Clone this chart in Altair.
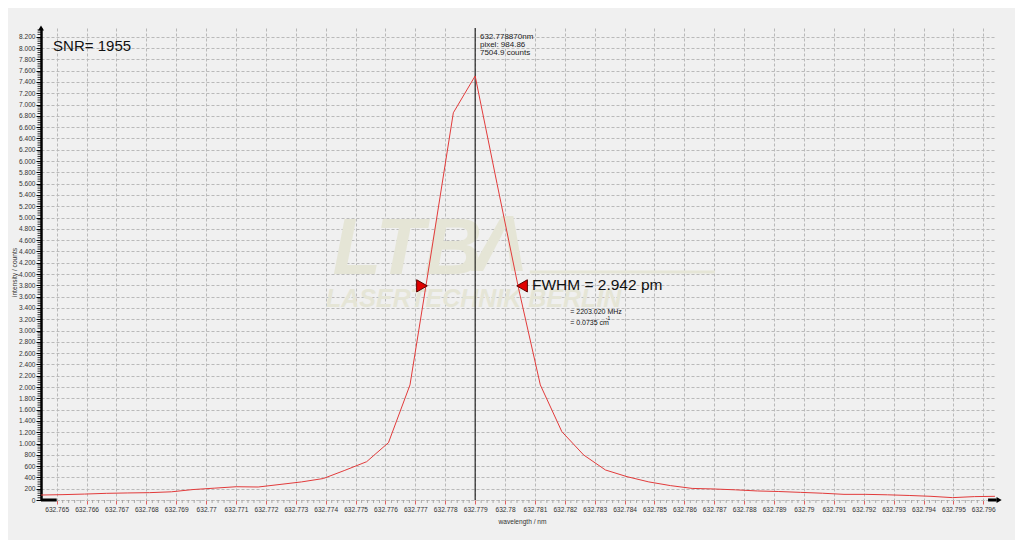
import altair as alt
import pandas as pd

# ---- data ----
wavelength_nm = [
    632.76448, 632.76521, 632.76593, 632.76666, 632.76738, 632.76811, 632.76884,
    632.76956, 632.77029, 632.77101, 632.77174, 632.77247, 632.77319, 632.77392,
    632.77464, 632.77537, 632.77610, 632.77682, 632.77755, 632.77827, 632.77900,
    632.77973, 632.78045, 632.78118, 632.78190, 632.78263, 632.78336, 632.78408,
    632.78481, 632.78553, 632.78626, 632.78699, 632.78771, 632.78844, 632.78916,
    632.78989, 632.79062, 632.79134, 632.79207, 632.79279, 632.79352, 632.79425,
    632.79497, 632.79570, 632.79639,
]
intensity_counts = [
    88, 95, 105, 118, 125, 130, 145,
    185, 210, 235, 230, 275, 320, 380,
    525, 678, 1015, 2037, 4440, 6854, 7505,
    5604, 3750, 2037, 1210, 797, 531, 413,
    320, 255, 205, 195, 180, 160, 150,
    135, 120, 100, 100, 92, 80, 65,
    42, 60, 65,
]

x_tick_values = [
    632.765, 632.766, 632.767, 632.768, 632.769, 632.770, 632.771, 632.772,
    632.773, 632.774, 632.775, 632.776, 632.777, 632.778, 632.779, 632.780,
    632.781, 632.782, 632.783, 632.784, 632.785, 632.786, 632.787, 632.788,
    632.789, 632.790, 632.791, 632.792, 632.793, 632.794, 632.795, 632.796,
]
y_tick_values = list(range(0, 8201, 200))

cursor_wl = 632.77900
cursor_lines = ["632.778870nm", "pixel:  984.86", "7504.9 counts"]
fwhm_marks_wl = [632.77722, 632.78057]
fwhm_level = 3790
snr_text = "SNR= 1955"
fwhm_text = "FWHM = 2.942 pm"
freq_text = "= 2203.020 MHz"
wn_text = "= 0.0735 cm"
wn_sup = "-1"

XDOM = [632.764475, 632.796392]
YDOM = [0, 8354]

FONT = "Liberation Sans"
BG = "#f0f0f0"
GRID = "#b9b9b9"

df = pd.DataFrame({"wl": wavelength_nm, "val": intensity_counts})

xs = alt.Scale(domain=XDOM, nice=False, zero=False)
ys = alt.Scale(domain=YDOM, nice=False, zero=False)

AX_X = alt.Axis(
    values=x_tick_values, format=".3~f", grid=True, gridDash=[3, 2],
    gridColor=GRID, gridWidth=1, tickColor="#e06060", tickSize=4,
    labelFontSize=6.6, labelColor="#333333", labelFont=FONT, labelPadding=2,
    domain=True, domainColor=GRID, domainDash=[3, 2],
    title="wavelength / nm", titleFont=FONT, titleFontSize=6.6,
    titleFontWeight="normal", titleColor="#333333",
    titleX=481, titleY=21, titleBaseline="middle")
AX_Y = alt.Axis(
    values=y_tick_values,
    labelExpr="replace(format(datum.value, ','), ',', '.')",
    grid=True, gridDash=[3, 2], gridColor=GRID, gridWidth=1,
    tickColor="black", tickSize=5, labelFontSize=6.6, labelColor="#333333",
    labelFont=FONT, labelPadding=1, domainColor="black", domainWidth=2.5,
    title="intensity / counts", titleFont=FONT, titleFontSize=6.6,
    titleFontWeight="normal", titleColor="#333333",
    titleX=-27, titleY=244, titleAngle=-90, titleBaseline="middle",
    titleAlign="center")


def X(field):
    return alt.X(field, type="quantitative", scale=xs, axis=AX_X)


def Y(field):
    return alt.Y(field, type="quantitative", scale=ys, axis=AX_Y)


# main line
line = alt.Chart(df).mark_line(color="#e23b3b", strokeWidth=1).encode(
    x=X("wl"), y=Y("val"))

# minor ticks on the y axis
y_minor = pd.DataFrame({"v": [v for v in range(0, 8321, 40) if v % 200 != 0]})
ymin_layer = alt.Chart(y_minor).mark_rule(color="black", strokeWidth=0.8).encode(
    y=Y("v"), x=alt.value(-3.5), x2=alt.value(0))

# minor ticks on x axis
x_minor_vals = []
for t in x_tick_values[:-1]:
    for j in range(1, 5):
        x_minor_vals.append(round(t + j * 0.0002, 4))
x_minor = pd.DataFrame({"v": x_minor_vals})
xmin_layer = alt.Chart(x_minor).mark_rule(color="#999999", strokeWidth=0.8).encode(
    x=X("v"), y=alt.value(472), y2=alt.value(475))

# watermark
wm_color = "#e5e5d6"
wm = pd.DataFrame({"wl": [632.77423, 632.77897], "val": [4420, 4470], "t": ["LTB", "Λ"]})
wm_layer = alt.Chart(wm).mark_text(
    font=FONT, fontSize=80, fontStyle="italic", fontWeight="bold", color=wm_color,
    align="left", baseline="middle").encode(x=X("wl"), y=Y("val"), text="t:N")
wm2 = pd.DataFrame({"wl": [632.77401], "val": [3560], "t": ["LASERTECHNIK BERLIN"]})
wm2_layer = alt.Chart(wm2).mark_text(
    font=FONT, fontSize=25, fontStyle="italic", fontWeight="bold", color=wm_color,
    align="left", baseline="middle").encode(x=X("wl"), y=Y("val"), text="t:N")
wm3 = pd.DataFrame({"a": [632.78083], "b": [632.78702], "val": [4036]})
wm3_layer = alt.Chart(wm3).mark_rule(color=wm_color, strokeWidth=3).encode(
    x=X("a"), x2="b:Q", y=Y("val"))

# cursor line
cur = pd.DataFrame({"wl": [cursor_wl]})
cur_layer = alt.Chart(cur).mark_rule(color="black", strokeWidth=1).encode(x=X("wl"))

cur_txt = pd.DataFrame({"wl": [632.77916] * 3, "val": [8200, 8054, 7917], "t": cursor_lines})
cur_txt_layer = alt.Chart(cur_txt).mark_text(
    font=FONT, fontSize=8, color="#222222", align="left", baseline="middle").encode(
    x=X("wl"), y=Y("val"), text="t:N")

# FWHM markers
tri = pd.DataFrame({"wl": fwhm_marks_wl, "val": [fwhm_level, fwhm_level],
                    "s": ["triangle-right", "triangle-left"]})
tri_layer = alt.Chart(tri).mark_point(filled=True, size=150, fill="#e00000",
                                      stroke="#5a0000", strokeWidth=1, opacity=1).encode(
    x=X("wl"), y=Y("val"), shape=alt.Shape("s:N", scale=None, legend=None))

texts = pd.DataFrame({
    "wl": [632.76488, 632.78090, 632.78218, 632.78218],
    "val": [8036, 3806, 3333, 3128],
    "t": [snr_text, fwhm_text, freq_text, wn_text],
    "fs": [15, 15.5, 7, 7],
})
txt_layer = alt.Chart(texts).mark_text(
    font=FONT, color="#111111", align="left", baseline="middle").encode(
    x=X("wl"), y=Y("val"), text="t:N", size=alt.Size("fs:Q", scale=None, legend=None))
sup = pd.DataFrame({"wl": [632.78337], "val": [3213], "t": [wn_sup]})
sup_layer = alt.Chart(sup).mark_text(
    font=FONT, fontSize=5, color="#111111", align="left", baseline="middle").encode(
    x=X("wl"), y=Y("val"), text="t:N")

# axis arrows
up = pd.DataFrame({"wl": [XDOM[0]], "val": [YDOM[1]]})
up_layer = alt.Chart(up).mark_point(shape="triangle-up", filled=True, size=35,
                                    color="black", opacity=1).encode(x=X("wl"), y=Y("val"))
rt = pd.DataFrame({"a": [632.79616], "b": [632.79645], "val": [0]})
rt_layer = alt.Chart(rt).mark_rule(color="black", strokeWidth=3).encode(
    x=X("a"), x2="b:Q", y=Y("val"))
rt_tip = pd.DataFrame({"wl": [632.79653], "val": [0]})
rt_tip_layer = alt.Chart(rt_tip).mark_point(shape="triangle-right", filled=True, size=35,
                                            color="black", opacity=1).encode(x=X("wl"), y=Y("val"))
corner = pd.DataFrame({"a": [XDOM[0]], "b": [632.765], "val": [0]})
corner_layer = alt.Chart(corner).mark_rule(color="black", strokeWidth=3).encode(
    x=X("a"), x2="b:Q", y=Y("val"))

chart = alt.layer(
    wm_layer, wm2_layer, wm3_layer, ymin_layer, xmin_layer, cur_layer,
    line, cur_txt_layer, tri_layer, txt_layer, sup_layer,
    up_layer, rt_layer, rt_tip_layer, corner_layer,
).properties(
    width=954, height=472,
    autosize=alt.AutoSizeParams(type="none"),
    padding={"left": 33, "top": 20, "right": 20, "bottom": 40},
    background=BG,
).configure_view(stroke=None, fill=BG)

chart.save("out.html", embed_options={"renderer": "svg", "actions": False})
